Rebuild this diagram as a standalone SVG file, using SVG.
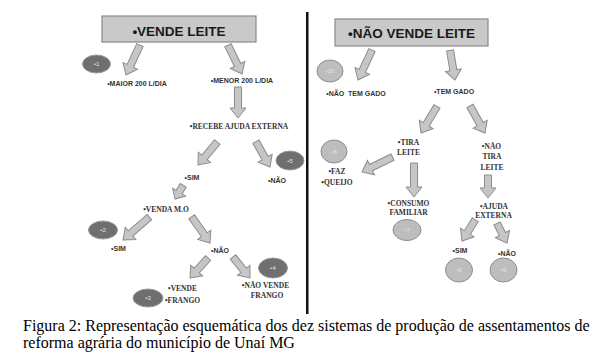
<svg xmlns="http://www.w3.org/2000/svg" width="607" height="361" viewBox="0 0 607 361">
<style>
.bg{fill:#ffffff}
.box{fill:#c9c9c9;stroke:#8a8a8a;stroke-width:1.2}
.boxt{font-family:"Liberation Sans",Arial,sans-serif;font-weight:bold;font-size:13.5px;fill:#1a1a1a;text-anchor:middle}
.arr{fill:#c6c6c6;stroke:#8c8c8c;stroke-width:1}
.ls{font-family:"Liberation Sans",Arial,sans-serif;font-weight:bold;font-size:7px;fill:#333;text-anchor:middle}
.lr{font-family:"Liberation Serif","Times New Roman",serif;font-weight:bold;font-size:7.5px;fill:#333;text-anchor:middle}
.dk{fill:#6f6f6f;stroke:#9a9a9a;stroke-width:1}
.lt{fill:#bdbdbd;stroke:#8e8e8e;stroke-width:1}
.num{font-family:"Liberation Sans",Arial,sans-serif;font-size:6px;fill:#e4e4e4;text-anchor:middle}
.cap{font-family:"Liberation Serif","Times New Roman",serif;font-size:16px;fill:#000}
</style>
<rect class="bg" x="0" y="0" width="607" height="361"/>

<!-- divider -->
<rect x="306" y="12" width="2.5" height="302" fill="#111"/>

<g id="connectors">
  <path class="arr" transform="translate(126,75) rotate(25)" d="M-3.5,-33 H3.5 V-10 H8 L0,0 L-8,-10 H-3.5 Z"/>
  <path class="arr" transform="translate(242,74) rotate(-26)" d="M-3.5,-32 H3.5 V-10 H8 L0,0 L-8,-10 H-3.5 Z"/>
  <path class="arr" transform="translate(238,118) rotate(0)" d="M-3.5,-31 H3.5 V-10 H8 L0,0 L-8,-10 H-3.5 Z"/>
  <path class="arr" transform="translate(198,165) rotate(40)" d="M-3.5,-30 H3.5 V-10 H8 L0,0 L-8,-10 H-3.5 Z"/>
  <path class="arr" transform="translate(270,167) rotate(-29)" d="M-3.5,-29 H3.5 V-10 H8 L0,0 L-8,-10 H-3.5 Z"/>
  <path class="arr" transform="translate(175,199) rotate(31)" d="M-3.5,-16 H3.5 V-8 H7.5 L0,0 L-7.5,-8 H-3.5 Z"/>
  <path class="arr" transform="translate(123,240) rotate(49)" d="M-3.5,-35 H3.5 V-10 H8 L0,0 L-8,-10 H-3.5 Z"/>
  <path class="arr" transform="translate(210,243) rotate(-35)" d="M-3.5,-32 H3.5 V-10 H8 L0,0 L-8,-10 H-3.5 Z"/>
  <path class="arr" transform="translate(190,278) rotate(42)" d="M-3.5,-27 H3.5 V-10 H8 L0,0 L-8,-10 H-3.5 Z"/>
  <path class="arr" transform="translate(250,278) rotate(-39)" d="M-3.5,-27 H3.5 V-10 H8 L0,0 L-8,-10 H-3.5 Z"/>

  <path class="arr" transform="translate(358,80) rotate(25)" d="M-3.5,-33 H3.5 V-10 H8 L0,0 L-8,-10 H-3.5 Z"/>
  <path class="arr" transform="translate(455,80) rotate(-9.5)" d="M-3.5,-30 H3.5 V-10 H8 L0,0 L-8,-10 H-3.5 Z"/>
  <path class="arr" transform="translate(421,133) rotate(31)" d="M-3.5,-31 H3.5 V-10 H8 L0,0 L-8,-10 H-3.5 Z"/>
  <path class="arr" transform="translate(485,133) rotate(-29)" d="M-3.5,-31 H3.5 V-10 H8 L0,0 L-8,-10 H-3.5 Z"/>
  <path class="arr" transform="translate(362,172) rotate(64)" d="M-3.5,-34 H3.5 V-10 H8 L0,0 L-8,-10 H-3.5 Z"/>
  <path class="arr" transform="translate(414,197) rotate(0)" d="M-3.5,-34 H3.5 V-10 H8 L0,0 L-8,-10 H-3.5 Z"/>
  <path class="arr" transform="translate(488,198) rotate(0)" d="M-3.5,-23 H3.5 V-10 H8 L0,0 L-8,-10 H-3.5 Z"/>
  <path class="arr" transform="translate(462,241) rotate(32)" d="M-3.5,-25 H3.5 V-10 H8 L0,0 L-8,-10 H-3.5 Z"/>
  <path class="arr" transform="translate(507,243) rotate(-27)" d="M-3.5,-22 H3.5 V-10 H8 L0,0 L-8,-10 H-3.5 Z"/>
</g>

<!-- Left tree -->
<g id="vende-leite">
  <rect class="box" x="102" y="16" width="154" height="26"/>
  <text class="boxt" x="179" y="36">•VENDE LEITE</text>
</g>
<g id="maior-200"><text class="ls" x="137" y="85.5">•MAIOR 200 L/DIA</text></g>
<g id="sys-1"><ellipse class="dk" cx="96.5" cy="64" rx="14" ry="9"/><text class="num" x="96.5" y="66">•1</text></g>
<g id="menor-200"><text class="ls" x="242" y="83">•MENOR 200 L/DIA</text></g>
<g id="recebe-ajuda"><text class="lr" x="239" y="128.5">•RECEBE AJUDA EXTERNA</text></g>
<g id="sim-1"><text class="ls" x="192" y="179.5">•SIM</text></g>
<g id="nao-1"><text class="ls" x="277" y="182.5">•NÃO</text></g>
<g id="sys-5"><ellipse class="dk" cx="290" cy="160.5" rx="14" ry="9.5"/><text class="num" x="290" y="162.5">•5</text></g>
<g id="venda-mo"><text class="lr" x="166" y="211.5">•VENDA M.O</text></g>
<g id="sim-2"><text class="ls" x="118.5" y="250.5">•SIM</text></g>
<g id="sys-2"><ellipse class="dk" cx="103" cy="230" rx="14.5" ry="9"/><text class="num" x="103" y="232">•2</text></g>
<g id="nao-2"><text class="ls" x="220" y="252.5">•NÃO</text></g>
<g id="vende-frango"><text class="lr" x="182.5" y="290.5">•VENDE</text><text class="lr" x="182.5" y="302.5">•FRANGO</text></g>
<g id="sys-3"><ellipse class="dk" cx="148" cy="298" rx="15" ry="9"/><text class="num" x="148" y="300">•3</text></g>
<g id="nao-vende-frango"><text class="lr" x="265.5" y="288">•NÃO VENDE</text><text class="lr" x="267" y="297.5">FRANGO</text></g>
<g id="sys-4"><ellipse class="dk" cx="273" cy="268" rx="14.5" ry="10"/><text class="num" x="273" y="270">•4</text></g>

<!-- Right tree -->
<g id="nao-vende-leite">
  <rect class="box" x="335" y="19" width="153" height="27"/>
  <text class="boxt" x="411.5" y="38">•NÃO VENDE LEITE</text>
</g>
<g id="nao-tem-gado"><text class="ls" x="356" y="95.5" xml:space="preserve">•NÃO  TEM GADO</text></g>
<g id="sys-10"><ellipse class="lt" cx="330" cy="71" rx="13" ry="11"/><text class="num" x="330" y="73">•10</text></g>
<g id="tem-gado"><text class="ls" x="454" y="93.5">•TEM GADO</text></g>
<g id="tira-leite"><text class="lr" x="408.5" y="144.5">•TIRA</text><text class="lr" x="408.5" y="154.5">LEITE</text></g>
<g id="nao-tira-leite"><text class="lr" x="491.5" y="148.5">•NÃO</text><text class="lr" x="492" y="159">TIRA</text><text class="lr" x="492" y="170">LEITE</text></g>
<g id="faz-queijo"><text class="lr" x="337" y="173.5">•FAZ</text><text class="lr" x="337" y="184.5">•QUEIJO</text></g>
<g id="sys-6"><ellipse class="lt" cx="334" cy="151.5" rx="13" ry="11.5"/><text class="num" x="334" y="153.5">•6</text></g>
<g id="consumo-familiar"><text class="lr" x="408.5" y="205.5">•CONSUMO</text><text class="lr" x="408.5" y="214.5">FAMILIAR</text></g>
<g id="sys-7"><ellipse class="lt" cx="407" cy="230" rx="14" ry="10.5"/><text class="num" x="407" y="232">•7</text></g>
<g id="ajuda-externa"><text class="lr" x="494" y="208.5">•AJUDA</text><text class="lr" x="493.5" y="218">EXTERNA</text></g>
<g id="sim-3"><text class="ls" x="460" y="252.5">•SIM</text></g>
<g id="nao-3"><text class="ls" x="507" y="255.5">•NÃO</text></g>
<g id="sys-8"><ellipse class="lt" cx="459" cy="270" rx="13.5" ry="12"/><text class="num" x="459" y="272">•8</text></g>
<g id="sys-9"><ellipse class="lt" cx="503.5" cy="270" rx="13.5" ry="12"/><text class="num" x="503.5" y="272">•9</text></g>

<!-- caption -->
<g id="caption">
  <text class="cap" x="23" y="331">Figura 2: Representação esquemática dos dez sistemas de produção de assentamentos de</text>
  <text class="cap" x="23" y="348">reforma agrária do município de Unaí MG</text>
</g>
</svg>
